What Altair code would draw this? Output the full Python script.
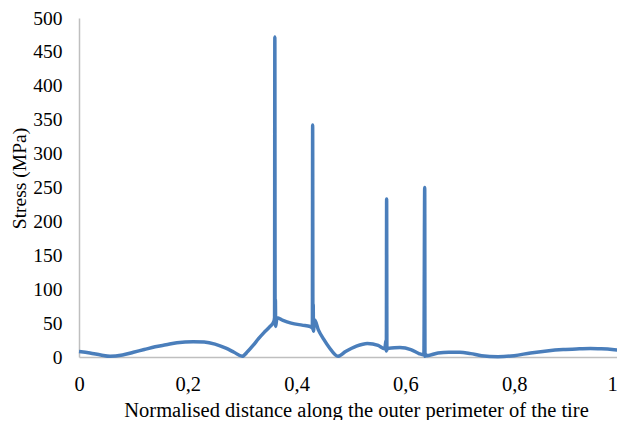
import altair as alt
import pandas as pd

# Normalised distance along the perimeter
dist = [0.00, 0.02, 0.04, 0.057, 0.08, 0.10, 0.12, 0.14, 0.16, 0.18, 0.21, 0.23, 0.25, 0.27,
        0.285, 0.30, 0.31, 0.32, 0.33, 0.34, 0.35, 0.358, 0.3595, 0.360, 0.3605, 0.361, 0.3615, 0.364,
        0.375, 0.39, 0.41, 0.425, 0.429, 0.4295, 0.430, 0.4305, 0.431, 0.433, 0.44, 0.45,
        0.46, 0.476, 0.49, 0.51, 0.53, 0.55, 0.562, 0.5645, 0.565, 0.5655, 0.566, 0.5665,
        0.57, 0.59, 0.61, 0.625, 0.634, 0.6355, 0.636, 0.6365, 0.64, 0.66, 0.68, 0.70, 0.72,
        0.74, 0.77, 0.80, 0.83, 0.86, 0.89, 0.92, 0.94, 0.96, 0.98, 1.00]
# Stress (MPa)
stress = [8, 6, 3, 1, 3, 7, 11, 15, 18, 21, 22.5, 22, 19, 13,
          7, 1, 8, 17, 27, 36, 44, 52, 58, 472, 50, 85, 45, 58,
          54, 50, 47, 45, 43, 342, 40, 78, 38, 55, 40, 26,
          14, 1, 8, 16, 20, 17, 12, 25, 9, 233, 10, 13,
          13, 14, 11, 5, 3, 250, 1, 4, 2, 6, 7, 7, 5,
          2, 0.5, 2, 6, 9, 11, 12, 12.5, 12, 11, 9]

df = pd.DataFrame({"d": dist, "s": stress, "i": list(range(len(dist)))})

x_ticks = [0, 0.2, 0.4, 0.6, 0.8, 1]
y_ticks = [0, 50, 100, 150, 200, 250, 300, 350, 400, 450, 500]

font = "Liberation Serif, Times New Roman, DejaVu Serif, serif"

chart = alt.Chart(df).mark_line(color="#4A7EBB", strokeWidth=3.5, strokeJoin="round",
                                interpolate="monotone").encode(
    x=alt.X("d:Q", scale=alt.Scale(domain=[0, 1], nice=False, range=[0, 544]),
            axis=alt.Axis(values=x_ticks, title="Normalised distance along the outer perimeter of the tire",
                          labelExpr="datum.value == 0 || datum.value == 1 ? format(datum.value, 'd') : replace(format(datum.value, '.1f'), '.', ',')",
                          grid=False, ticks=False, domainColor="#BFBFBF", domainWidth=1.5,
                          labelFont=font, labelFontSize=20.5, labelColor="#000000", labelPadding=17,
                          labelOffset={"expr": "datum.value == 1 ? -11 : 0"},
                          labelOverlap=False, labelFlush=False, labelBound=False,
                          titleFont=font, titleFontSize=20.5, titleFontWeight="normal", titleColor="#000000",
                          titleX=277, titleY=59, titleBaseline="alphabetic")),
    y=alt.Y("s:Q", scale=alt.Scale(domain=[0, 500], nice=False),
            axis=alt.Axis(values=y_ticks, title="Stress (MPa)", grid=False, ticks=False,
                          domainColor="#BFBFBF", domainWidth=1.5,
                          labelFont=font, labelFontSize=19.5, labelColor="#000000", labelPadding=17,
                          labelOverlap=False,
                          titleFont=font, titleFontSize=19.5, titleFontWeight="normal", titleColor="#000000",
                          titleX=-60, titleY=160, titleBaseline="middle", titleAngle=270)),
    order="i:Q",
).properties(
    width=538, height=339,
    autosize=alt.AutoSizeParams(type="none"),
    padding={"left": 71, "top": 10, "right": 0, "bottom": 63},
).configure_view(stroke=None)

chart.save("out.html", embed_options={"renderer": "svg", "actions": False})
